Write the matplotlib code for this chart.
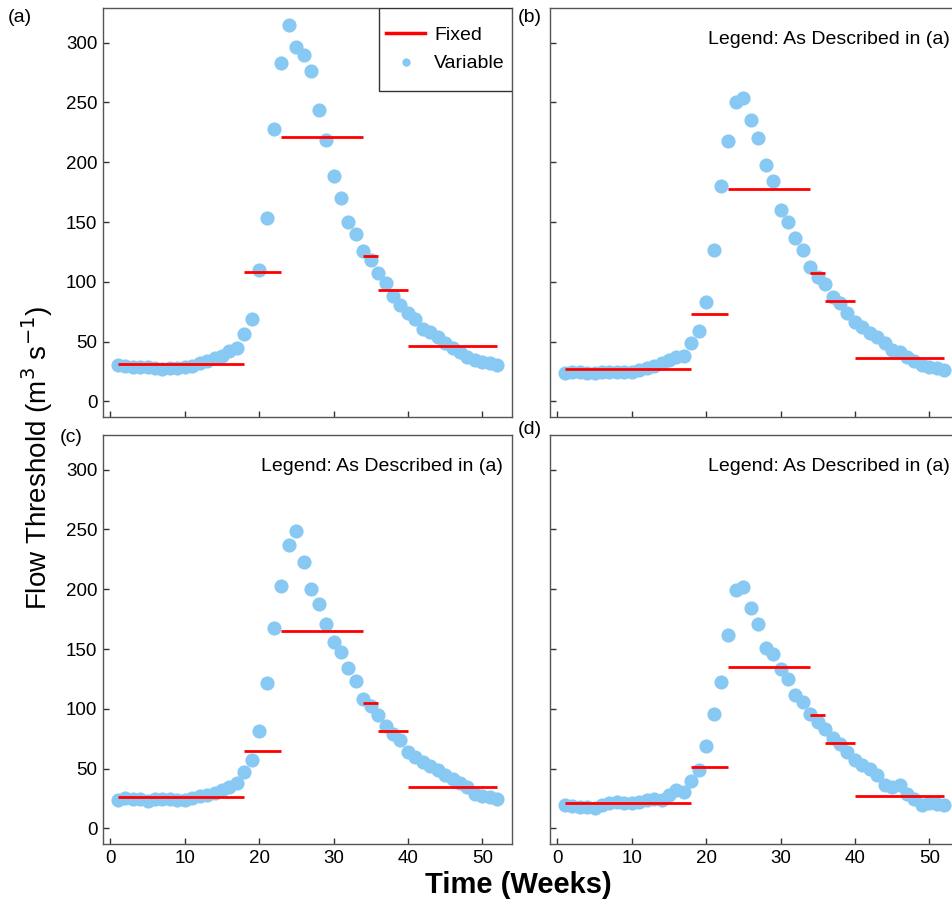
import numpy as np
import matplotlib
matplotlib.use("Agg")
import matplotlib.pyplot as plt
from matplotlib.lines import Line2D
from matplotlib.patches import Rectangle

plt.rcParams["font.family"] = ["Liberation Sans", "DejaVu Sans"]

weeks = np.arange(1, 53)

# variable thresholds (m3/s)
var_a = [30.5, 30, 29, 28.5, 28.5, 28, 27, 28, 28, 28.5, 29.5, 32, 34, 36, 38, 42, 45, 56,
         68.6, 109.7, 153.6, 227.8, 282.8, 315, 296, 290, 276, 244, 219, 188.6, 170, 150,
         140, 126, 118, 107.5, 99, 88, 81, 73.6, 68.6, 61, 58, 54, 49, 45, 41, 37.5, 35,
         33, 32, 30.5]
var_b = [24, 25, 24.5, 24, 24, 25, 24.5, 25, 24.5, 25, 26, 28, 30, 32, 35, 37.5, 38, 48.6,
         59, 83, 127, 180.5, 217.5, 250, 254, 235, 220.5, 198, 184, 160, 150, 137, 127,
         112.5, 104, 98, 87.5, 82, 73.6, 66.7, 62, 57, 54, 49, 43, 41, 37.5, 34, 30.5, 29,
         28, 26.4]
var_c = [24, 25.6, 25, 25, 23, 25, 25, 24.5, 23.7, 23.7, 25.6, 27, 28, 30, 32, 35, 37.6, 47,
         57.6, 81.5, 122, 168, 203, 237, 249, 222.6, 200, 187.6, 170.6, 156, 147.5, 134,
         123, 108.5, 102, 95, 86, 79, 74, 64, 60, 55.7, 52, 48.7, 45, 41, 37.6, 35, 29, 27,
         26.4, 25]
var_d = [20, 18.6, 18, 18, 17, 20, 21, 22, 21.4, 21.4, 22, 24, 24.5, 24, 28, 32, 30.6, 40,
         48.7, 68.7, 96, 122.5, 162, 199.5, 202, 184, 171, 151, 146, 133.6, 125, 112,
         105.8, 96, 89, 83, 76, 71, 64, 57, 53, 50, 44.5, 36.7, 34.8, 36, 29, 25, 20, 21,
         20.3, 19.5]

# fixed thresholds: one value per period
seg_start = [1, 18, 23, 34, 36, 40]
seg_end = [18, 23, 34, 36, 40, 52]
fix_a = [31, 108, 221, 122, 93.6, 46]
fix_b = [27, 73, 178, 107, 83.6, 36.7]
fix_c = [26, 65, 165, 104.6, 81.5, 34.8]
fix_d = [21.7, 51, 135, 95, 71.5, 27]

panels = [("(a)", var_a, fix_a), ("(b)", var_b, fix_b),
          ("(c)", var_c, fix_c), ("(d)", var_d, fix_d)]

W, H = 952, 916
fig = plt.figure(figsize=(W / 100, H / 100), dpi=100)

# axes boxes in pixels (left, top) and panel-letter centres
boxes = [(103, 8), (550, 8), (103, 435), (550, 435)]
letter_xy = [(20, 17), (530, 18), (71, 437), (530, 429)]
AW, AH = 409, 409
BLUE = "#88C9F4"
SPINE = "#555555"

axes = []
for i, ((lab, var, fix), (l, t)) in enumerate(zip(panels, boxes)):
    ax = fig.add_axes([l / W, 1 - (t + AH) / H, AW / W, AH / H])
    ax.plot(weeks, var, "o", color=BLUE, ms=10.2, mec="none", zorder=2)
    ax.hlines(fix, seg_start, seg_end, color="#FF0000", lw=2, zorder=3)
    ax.set_xlim(-1, 54)
    ax.set_ylim(-13, 329)
    ax.set_xticks(range(0, 51, 10))
    ax.set_yticks(range(0, 301, 50))
    ax.tick_params(direction="in", length=4, width=1, color="#333333",
                   labelsize=13.5, pad=4)
    for s in ax.spines.values():
        s.set_color(SPINE)
        s.set_linewidth(1)
    if i % 2 == 1:
        ax.tick_params(labelleft=False)
    if i < 2:
        ax.tick_params(labelbottom=False)
    lx, ly = letter_xy[i]
    fig.text(lx / W, 1 - ly / H, lab, fontsize=14, ha="center", va="center")
    if i > 0:
        ax.text(0.978, 0.924, "Legend: As Described in (a)", transform=ax.transAxes,
                ha="right", va="center", fontsize=14)
    axes.append(ax)

# legend of panel (a): box drawn separately to get the tall, narrow frame
ax = axes[0]
x0 = (379 - 103) / AW
bh = 83 / AH
ax.add_patch(Rectangle((x0, 1 - bh), 1 - x0, bh, transform=ax.transAxes,
                       fill=True, facecolor="white", edgecolor="#333333", lw=1, zorder=4))
handles = [Line2D([], [], color="#FF0000", lw=2.5),
           Line2D([], [], ls="none", marker="o", ms=6, color=BLUE, mec="none")]
leg = ax.legend(handles, ["Fixed", "Variable"], loc="center",
                bbox_to_anchor=(x0 + (1 - x0) / 2, 1 - bh / 2), fontsize=14,
                frameon=False, borderpad=0, handlelength=2.0, handletextpad=0.45,
                labelspacing=0.55)
leg.set_zorder(5)

fig.text(37 / W, 0.5, r"Flow Threshold (m$^3$ s$^{-1}$)", rotation=90, fontsize=20,
         ha="center", va="center")
fig.text(518 / W, 1 - 885 / H, "Time (Weeks)", fontsize=21, fontweight="bold",
         ha="center", va="center")

fig.savefig("out.png", dpi=100)
